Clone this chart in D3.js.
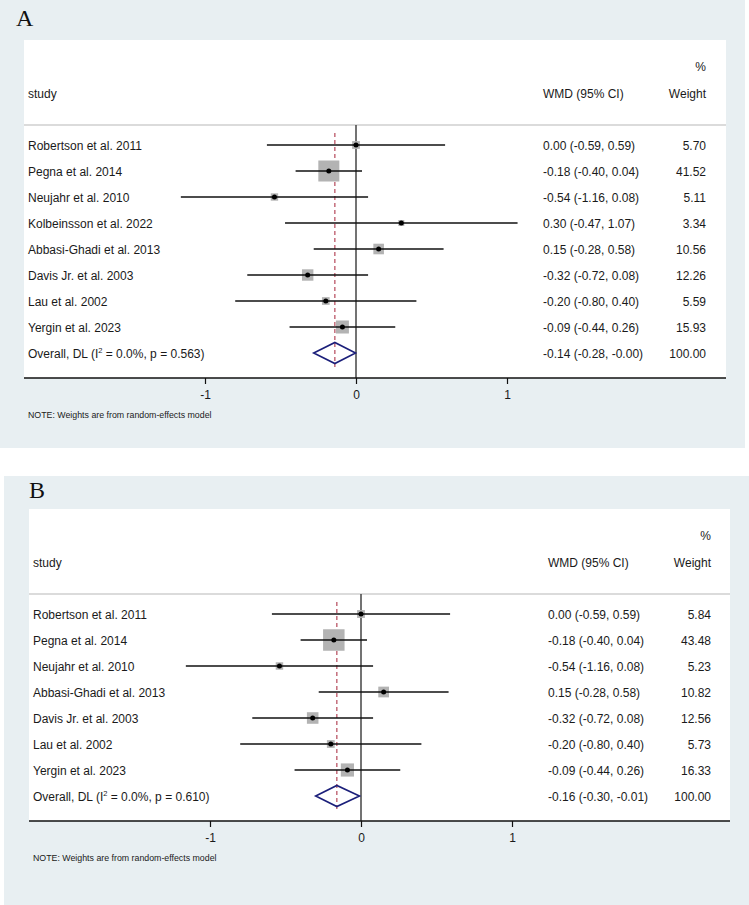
<!DOCTYPE html>
<html><head><meta charset="utf-8">
<script src="https://cdn.jsdelivr.net/npm/d3@7"></script>
<style>body{margin:0;background:#fff}svg{display:block}</style>
</head><body>
<svg id="chart" width="749" height="905"></svg>
<script>
// ---- Data ----
const studiesA = ["Robertson et al. 2011","Pegna et al. 2014","Neujahr et al. 2010","Kolbeinsson et al. 2022","Abbasi-Ghadi et al. 2013","Davis Jr. et al. 2003","Lau et al. 2002","Yergin et al. 2023"];
const estA = [0.00,-0.18,-0.54,0.30,0.15,-0.32,-0.20,-0.09];
const loA  = [-0.59,-0.40,-1.16,-0.47,-0.28,-0.72,-0.80,-0.44];
const hiA  = [0.59,0.04,0.08,1.07,0.58,0.08,0.40,0.26];
const wA   = [5.70,41.52,5.11,3.34,10.56,12.26,5.59,15.93];
const overallA = {est:-0.14, lo:-0.28, hi:-0.003, w:100.00, i2:"0.0%", p:"0.563"};

const studiesB = ["Robertson et al. 2011","Pegna et al. 2014","Neujahr et al. 2010","Abbasi-Ghadi et al. 2013","Davis Jr. et al. 2003","Lau et al. 2002","Yergin et al. 2023"];
const estB = [0.00,-0.18,-0.54,0.15,-0.32,-0.20,-0.09];
const loB  = [-0.59,-0.40,-1.16,-0.28,-0.72,-0.80,-0.44];
const hiB  = [0.59,0.04,0.08,0.58,0.08,0.40,0.26];
const wB   = [5.84,43.48,5.23,10.82,12.56,5.73,16.33];
const overallB = {est:-0.16, lo:-0.30, hi:-0.01, w:100.00, i2:"0.0%", p:"0.610"};

const tickVals = [-1, 0, 1];
const panelLabels = ["A","B"];

// ---- Drawing ----
const svg = d3.select("#chart");
const FONT = "'Liberation Sans', Arial, sans-serif";
const BG = "#e8eff2";
const FS = 12;
const f2 = v => v.toFixed(2);

function drawPanel(opt) {
  const {ox, oy, ow, oh, wx, wy, ww, label, lx, ly, studies, est, lo, hi, w, overall} = opt;
  svg.append("rect").attr("x", ox).attr("y", oy).attr("width", ow).attr("height", oh).attr("fill", BG);
  svg.append("text").attr("x", lx).attr("y", ly).text(label)
    .attr("font-family", "'Liberation Serif', 'Times New Roman', serif").attr("font-size", 24).attr("fill", "#111");

  const n = studies.length;
  const rowStep = 26, firstRow = 105;
  const overallY = firstRow + n * rowStep;
  const axisY = overallY + 25;

  svg.append("rect").attr("x", wx).attr("y", wy).attr("width", ww).attr("height", axisY).attr("fill", "#fff");
  const g = svg.append("g").attr("transform", `translate(${wx},${wy})`);
  const x = d3.scaleLinear().domain([-1, 1]).range([181, 483]);
  const y = i => firstRow + i * rowStep;

  const txt = (sel) => sel.attr("font-family", FONT).attr("font-size", FS).attr("fill", "#1a1a1a");
  const wmdX = 519, wtX = 682;

  // headers
  g.append("text").attr("x", wtX).attr("y", 31).attr("text-anchor", "end").text("%").call(txt);
  g.append("text").attr("x", 4).attr("y", 58).text("study").call(txt);
  g.append("text").attr("x", wmdX).attr("y", 58).text("WMD (95% CI)").call(txt);
  g.append("text").attr("x", wtX).attr("y", 58).attr("text-anchor", "end").text("Weight").call(txt);
  g.append("line").attr("x1", 0).attr("x2", ww).attr("y1", 85).attr("y2", 85).attr("stroke", "#cfcfcf").attr("stroke-width", 1.5);

  // zero line
  g.append("line").attr("x1", x(0)).attr("x2", x(0)).attr("y1", 85).attr("y2", axisY)
    .attr("stroke", "#444").attr("stroke-width", 1.5);
  // overall dashed line
  g.append("line").attr("x1", x(overall.est)).attr("x2", x(overall.est)).attr("y1", firstRow - 12).attr("y2", overallY + 14)
    .attr("stroke", "#b5485a").attr("stroke-width", 1.2).attr("stroke-dasharray", "4,3");

  const rows = studies.map((s, i) => ({s, e: est[i], l: lo[i], h: hi[i], w: w[i], i}));
  const k = 3.26;
  // squares
  g.selectAll(".sq").data(rows).join("rect")
    .attr("x", d => x(d.e) - k * Math.sqrt(d.w) / 2)
    .attr("y", d => y(d.i) - k * Math.sqrt(d.w) / 2)
    .attr("width", d => k * Math.sqrt(d.w)).attr("height", d => k * Math.sqrt(d.w))
    .attr("fill", "#b3b3b3");
  // CI lines
  g.selectAll(".ci").data(rows).join("line")
    .attr("x1", d => x(d.l)).attr("x2", d => x(d.h)).attr("y1", d => y(d.i)).attr("y2", d => y(d.i))
    .attr("stroke", "#111").attr("stroke-width", 1.6);
  g.selectAll(".dot").data(rows).join("circle")
    .attr("cx", d => x(d.e)).attr("cy", d => y(d.i)).attr("r", 2.5).attr("fill", "#000");

  // row texts
  g.selectAll(".lab").data(rows).join("text").attr("x", 4).attr("y", d => y(d.i) + 4.5).text(d => d.s).call(txt);
  g.selectAll(".wmd").data(rows).join("text").attr("x", wmdX).attr("y", d => y(d.i) + 4.5)
    .text(d => `${f2(d.e)} (${f2(d.l)}, ${f2(d.h)})`).call(txt);
  g.selectAll(".wt").data(rows).join("text").attr("x", wtX).attr("y", d => y(d.i) + 4.5).attr("text-anchor", "end")
    .text(d => f2(d.w)).call(txt);

  // overall
  const ov = g.append("text").attr("x", 4).attr("y", overallY + 4.5).call(txt);
  ov.append("tspan").text("Overall, DL (I");
  ov.append("tspan").attr("dy", -5).attr("font-size", 7.5).text("2");
  ov.append("tspan").attr("dy", 5).text(` = ${overall.i2}, p = ${overall.p})`);
  g.append("text").attr("x", wmdX).attr("y", overallY + 4.5)
    .text(`${f2(overall.est)} (${f2(overall.lo)}, ${f2(overall.hi)})`).call(txt);
  g.append("text").attr("x", wtX).attr("y", overallY + 4.5).attr("text-anchor", "end").text(f2(overall.w)).call(txt);
  const dh = 10.5;
  g.append("path")
    .attr("d", `M${x(overall.lo)},${overallY} L${x(overall.est)},${overallY - dh} L${x(overall.hi)},${overallY} L${x(overall.est)},${overallY + dh} Z`)
    .attr("fill", "none").attr("stroke", "#1b1f7a").attr("stroke-width", 1.6);

  // axis
  g.append("line").attr("x1", 0).attr("x2", ww).attr("y1", axisY).attr("y2", axisY).attr("stroke", "#111").attr("stroke-width", 1.5);
  const ax = g.append("g").attr("transform", `translate(0,${axisY})`)
    .call(d3.axisBottom(x).tickValues(tickVals).tickSize(6).tickSizeOuter(0).tickFormat(d3.format("d")));
  ax.select(".domain").remove();
  ax.selectAll(".tick line").attr("stroke", "#111").attr("stroke-width", 1.2);
  ax.selectAll(".tick text").attr("y", 12).attr("font-family", FONT).attr("font-size", FS).attr("fill", "#1a1a1a")
    .text(d => d < 0 ? "-" + Math.abs(d) : String(d));

  g.append("text").attr("x", 4).attr("y", axisY + 40).text("NOTE: Weights are from random-effects model")
    .attr("font-family", FONT).attr("font-size", 8.8).attr("fill", "#1a1a1a");
}

drawPanel({ox:0, oy:0, ow:745, oh:448, wx:24, wy:40, ww:702, label:panelLabels[0], lx:16, ly:26,
  studies:studiesA, est:estA, lo:loA, hi:hiA, w:wA, overall:overallA});
drawPanel({ox:4, oy:476, ow:745, oh:429, wx:29, wy:509, ww:701, label:panelLabels[1], lx:29, ly:498,
  studies:studiesB, est:estB, lo:loB, hi:hiB, w:wB, overall:overallB});
</script>
</body></html>
